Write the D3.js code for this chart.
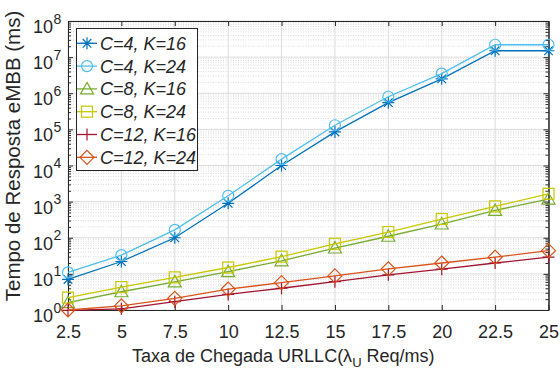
<!DOCTYPE html>
<html>
<head>
<meta charset="utf-8">
<script src="https://cdn.jsdelivr.net/npm/d3@7"></script>
<style>
  body { margin: 0; background: #fff; }
  svg text { font-family: "Liberation Sans", Arial, Helvetica, sans-serif; fill: #262626; }
</style>
</head>
<body>
<div class="result"></div>
<script>
// Data (x: arrival rate, y: eMBB response time in ms)
const xValues = [2.5, 5, 7.5, 10, 12.5, 15, 17.5, 20, 22.5, 25];
const c4k16 = [7, 22, 100, 900, 10000, 85000, 550000, 2500000, 15000000, 15000000];
const c4k24 = [11, 33, 165, 1450, 15000, 130000, 800000, 3500000, 22000000, 22000000];
const c8k16 = [1.6, 3.2, 6, 11.5, 23, 52, 110, 240, 570, 1180];
const c8k24 = [2.2, 4.3, 8, 15, 30, 68, 144, 330, 740, 1650];
const c12k16 = [0.98, 1.08, 1.7, 2.7, 4.0, 6.1, 9.4, 13.5, 20, 29];
const c12k24 = [1.0, 1.3, 2.1, 3.8, 5.7, 8.8, 13.8, 20, 29, 44];

const seriesNames = ['C=4, K=16', 'C=4, K=24', 'C=8, K=16', 'C=8, K=24', 'C=12, K=16', 'C=12, K=24'];
const seriesValues = [c4k16, c4k24, c8k16, c8k24, c12k16, c12k24];
const seriesColors = ['#0072BD', '#4DBEEE', '#77AC30', '#C8C800', '#A2142F', '#D95319'];
const seriesMarkers = ['asterisk', 'circle', 'triangle', 'square', 'plus', 'diamond'];

const xTicks = [2.5, 5, 7.5, 10, 12.5, 15, 17.5, 20, 22.5, 25];
const yExponents = [0, 1, 2, 3, 4, 5, 6, 7, 8];

// Size
const w = 560;
const h = 369;
const plotLeft = 68, plotRight = 548.5, plotTop = 21, plotBottom = 310;

const svg = d3.select('.result')
  .append('svg')
  .attr('width', w)
  .attr('height', h);

// Scales
const xScale = d3.scaleLinear()
  .domain([2.5, 25])
  .range([plotLeft, plotRight]);

const yScale = d3.scaleLog()
  .domain([1, 1e8])
  .range([plotBottom, plotTop]);

const yMajor = yExponents.map(function (e) { return Math.pow(10, e); });
const yMinor = [];
for (let e = 0; e < 8; e++) {
  for (let m = 2; m <= 9; m++) {
    yMinor.push(m * Math.pow(10, e));
  }
}

// Minor grid (y only)
svg.append('g')
  .selectAll('line')
  .data(yMinor)
  .enter()
  .append('line')
  .attr('x1', plotLeft).attr('x2', plotRight)
  .attr('y1', function (d) { return yScale(d); })
  .attr('y2', function (d) { return yScale(d); })
  .attr('stroke', '#d2d2d2')
  .attr('stroke-width', 0.8)
  .attr('stroke-dasharray', '1,1.5');

// Major grid
svg.append('g')
  .selectAll('line')
  .data(yMajor)
  .enter()
  .append('line')
  .attr('x1', plotLeft).attr('x2', plotRight)
  .attr('y1', function (d) { return yScale(d); })
  .attr('y2', function (d) { return yScale(d); })
  .attr('stroke', '#dcdcdc')
  .attr('stroke-width', 1);

svg.append('g')
  .selectAll('line')
  .data(xTicks)
  .enter()
  .append('line')
  .attr('y1', plotTop).attr('y2', plotBottom)
  .attr('x1', function (d) { return xScale(d); })
  .attr('x2', function (d) { return xScale(d); })
  .attr('stroke', '#dcdcdc')
  .attr('stroke-width', 1);

// Axes (ticks pointing inward, MATLAB box style)
function styleAxis(g) {
  g.selectAll('.domain').attr('stroke', '#262626');
  g.selectAll('.tick line').attr('stroke', '#262626');
}

const xAxis = d3.axisBottom(xScale)
  .tickValues(xTicks)
  .tickSizeInner(-5)
  .tickSizeOuter(0)
  .tickPadding(15)
  .tickFormat(d3.format('~g'));

svg.append('g')
  .attr('transform', 'translate(0,' + plotBottom + ')')
  .call(xAxis)
  .call(styleAxis)
  .call(function (g) {
    g.selectAll('text')
      .attr('font-size', 18)
      .attr('fill', '#262626')
      .style('font-family', '"Liberation Sans", Arial, sans-serif');
  });

svg.append('g')
  .attr('transform', 'translate(0,' + plotTop + ')')
  .call(d3.axisTop(xScale).tickValues(xTicks).tickSizeInner(-5).tickSizeOuter(0).tickFormat(''))
  .call(styleAxis);

svg.append('g')
  .attr('transform', 'translate(' + plotLeft + ',0)')
  .call(d3.axisLeft(yScale).tickValues(yMajor).tickSizeInner(-5).tickSizeOuter(0).tickFormat(''))
  .call(styleAxis);

svg.append('g')
  .attr('transform', 'translate(' + plotLeft + ',0)')
  .call(d3.axisLeft(yScale).tickValues(yMinor).tickSizeInner(-3).tickSizeOuter(0).tickFormat(''))
  .call(styleAxis);

svg.append('g')
  .attr('transform', 'translate(' + plotRight + ',0)')
  .call(d3.axisRight(yScale).tickValues(yMajor).tickSizeInner(-5).tickSizeOuter(0).tickFormat(''))
  .call(styleAxis);

svg.append('g')
  .attr('transform', 'translate(' + plotRight + ',0)')
  .call(d3.axisRight(yScale).tickValues(yMinor).tickSizeInner(-3).tickSizeOuter(0).tickFormat(''))
  .call(styleAxis);

// Y tick labels 10^n
const yLabels = svg.append('g');
yLabels.selectAll('text.base')
  .data(yExponents)
  .enter()
  .append('text')
  .attr('class', 'base')
  .attr('x', 53)
  .attr('y', function (d) { return yScale(Math.pow(10, d)) + 12; })
  .attr('text-anchor', 'end')
  .attr('font-size', 18)
  .text('10');

yLabels.selectAll('text.exp')
  .data(yExponents)
  .enter()
  .append('text')
  .attr('class', 'exp')
  .attr('x', 53.5)
  .attr('y', function (d) { return yScale(Math.pow(10, d)) + 2.5; })
  .attr('text-anchor', 'start')
  .attr('font-size', 14)
  .text(function (d) { return d; });

// Axis labels
const xLabel = svg.append('text')
  .attr('x', 132)
  .attr('y', 362)
  .attr('font-size', 18);
xLabel.append('tspan').text('Taxa de Chegada URLLC(λ');
xLabel.append('tspan').attr('font-size', 13).attr('dy', 5).text('U');
xLabel.append('tspan').attr('dy', -5).text(' Req/ms)');

svg.append('text')
  .attr('transform', 'translate(20,' + 156 + ') rotate(-90)')
  .attr('text-anchor', 'middle')
  .attr('font-size', 20.5)
  .text('Tempo de Resposta eMBB (ms)');

// Marker shapes
function drawMarker(g, type, color) {
  const s = 6;
  if (type === 'circle') {
    g.append('circle').attr('r', 5.5).attr('fill', 'none').attr('stroke', color);
  } else if (type === 'asterisk') {
    g.append('path')
      .attr('d', 'M' + -s + ',0H' + s + 'M0,' + -s + 'V' + s +
        'M-4.3,-4.3L4.3,4.3M-4.3,4.3L4.3,-4.3')
      .attr('stroke', color).attr('fill', 'none');
  } else if (type === 'plus') {
    g.append('path')
      .attr('d', 'M' + -s + ',0H' + s + 'M0,' + -s + 'V' + s)
      .attr('stroke', color).attr('fill', 'none');
  } else if (type === 'square') {
    g.append('rect').attr('x', -5.5).attr('y', -5.5).attr('width', 11).attr('height', 11)
      .attr('fill', 'none').attr('stroke', color);
  } else if (type === 'triangle') {
    g.append('path').attr('d', 'M0,-6.5L6.5,5L-6.5,5Z')
      .attr('fill', 'none').attr('stroke', color);
  } else if (type === 'diamond') {
    g.append('path').attr('d', 'M0,-7L7,0L0,7L-7,0Z')
      .attr('fill', 'none').attr('stroke', color);
  }
}

// Lines and markers
const line = d3.line()
  .x(function (d) { return xScale(d[0]); })
  .y(function (d) { return yScale(d[1]); });

seriesValues.forEach(function (vals, i) {
  const pts = xValues.map(function (x, j) { return [x, vals[j]]; });
  const g = svg.append('g');
  g.append('path')
    .datum(pts)
    .attr('d', line)
    .attr('fill', 'none')
    .attr('stroke', seriesColors[i])
    .attr('stroke-width', 1.3);
  pts.forEach(function (p) {
    const m = g.append('g')
      .attr('transform', 'translate(' + xScale(p[0]) + ',' + yScale(p[1]) + ')')
      .attr('stroke-width', 1.2);
    drawMarker(m, seriesMarkers[i], seriesColors[i]);
  });
});

// Legend
const legend = svg.append('g');
legend.append('rect')
  .attr('x', 76.5).attr('y', 28.5)
  .attr('width', 121).attr('height', 142)
  .attr('fill', '#fff')
  .attr('stroke', '#262626')
  .attr('stroke-width', 1);

seriesNames.forEach(function (name, i) {
  const cy = 43.3 + i * 22.8;
  legend.append('line')
    .attr('x1', 77).attr('x2', 97)
    .attr('y1', cy).attr('y2', cy)
    .attr('stroke', seriesColors[i])
    .attr('stroke-width', 1.3);
  const m = legend.append('g')
    .attr('transform', 'translate(87,' + cy + ')')
    .attr('stroke-width', 1.2);
  drawMarker(m, seriesMarkers[i], seriesColors[i]);
  legend.append('text')
    .attr('x', 100)
    .attr('y', cy + 6.5)
    .attr('font-size', 18)
    .attr('font-style', 'italic')
    .text(name);
});
</script>
</body>
</html>
